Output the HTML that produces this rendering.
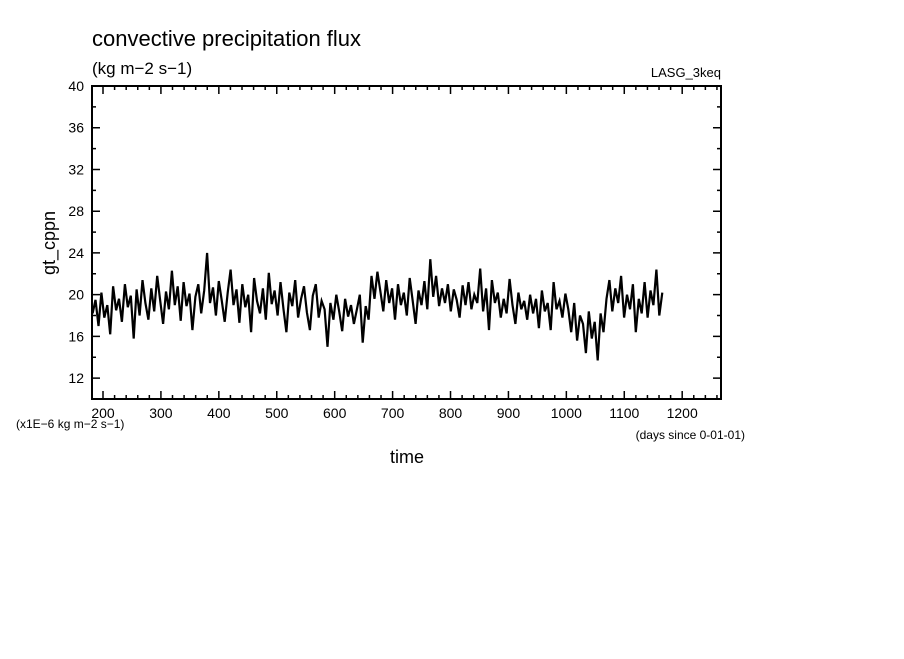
<!DOCTYPE html>
<html><head><meta charset="utf-8">
<style>
body{margin:0;background:#fff;}
svg text{font-family:"Liberation Sans",sans-serif;fill:#000;}
</style></head>
<body>
<svg id="chart" width="904" height="654" viewBox="0 0 904 654" xmlns="http://www.w3.org/2000/svg">
<defs><clipPath id="plotclip"><rect x="92" y="86" width="629" height="313"/></clipPath></defs>
<rect width="904" height="654" fill="#fff"/>
<text x="92" y="46" font-size="22">convective precipitation flux</text>
<text x="92" y="74" font-size="17">(kg m−2 s−1)</text>
<text x="721" y="77" font-size="13" text-anchor="end">LASG_3keq</text>
<text transform="translate(55,243) rotate(-90)" font-size="18" text-anchor="middle">gt_cppn</text>
<text x="407" y="463" font-size="18" text-anchor="middle">time</text>
<text x="16" y="428" font-size="12">(x1E−6 kg m−2 s−1)</text>
<text x="745" y="439" font-size="12" text-anchor="end">(days since 0-01-01)</text>
<g id="ticks"></g>
<g id="series" clip-path="url(#plotclip)"></g>
<rect x="92" y="86" width="629" height="313" fill="none" stroke="#000" stroke-width="2"/>
</svg>
<script>
const xTicks=[200,300,400,500,600,700,800,900,1000,1100,1200];
const yTicks=[12,16,20,24,28,32,36,40];
const startDay=182;
const stepDays=5.07;
const values=[
18.2,19.5,17.0,20.2,17.8,19.0,16.2,20.8,18.5,19.6,17.4,21.0,18.8,19.9,15.8,20.5,18.0,21.4,19.2,17.6,
20.6,18.4,21.8,19.5,17.2,20.3,18.6,22.3,19.0,20.8,17.5,21.2,18.9,20.1,16.6,19.8,21.0,18.2,20.4,24.0,
19.2,20.7,18.0,21.3,19.4,17.4,20.2,22.4,19.0,20.5,17.3,21.0,18.8,20.0,16.4,21.6,19.4,18.2,20.6,17.6,
22.1,19.1,20.4,18.0,21.2,18.6,16.4,20.2,18.9,21.4,17.8,19.6,20.8,18.3,16.6,19.9,21.0,17.8,19.4,18.6,
15.0,19.2,17.6,20.0,18.4,16.5,19.6,17.9,19.0,17.2,18.6,20.0,15.4,18.9,17.6,21.8,19.6,22.2,20.3,18.4,
21.4,19.2,20.6,17.6,21.0,19.0,20.2,18.0,21.6,19.4,17.2,20.4,19.0,21.3,18.6,23.4,19.8,21.8,18.9,20.6,
19.2,21.0,18.4,20.5,19.5,17.8,20.9,19.0,21.2,18.6,20.0,19.2,22.5,18.4,20.6,16.6,21.4,19.2,20.2,17.8,
19.6,18.2,21.5,19.0,17.2,20.2,18.6,19.4,17.6,20.0,18.2,19.6,16.8,20.4,18.4,19.2,16.6,21.2,18.6,19.4,
17.8,20.1,18.6,16.4,19.2,15.6,18.0,17.2,14.4,18.4,15.8,17.4,13.7,18.2,16.4,19.6,21.4,18.4,20.6,19.2,
21.8,17.8,20.0,18.6,21.0,16.4,19.6,18.2,21.2,17.8,20.4,19.0,22.4,18.0,20.2
];
const X0=92,X1=721,Y0=399,Y1=86,dMin=181,dMax=1267,vMin=10,vMax=40;
function xs(d){return X0+(d-dMin)/(dMax-dMin)*(X1-X0);}
function ys(v){return Y0-(v-vMin)/(vMax-vMin)*(Y0-Y1);}
const NS="http://www.w3.org/2000/svg";
const tg=document.getElementById('ticks');
let tp="";
for(let d=200;d<=dMax;d+=20){const x=xs(d);const L=(d%100===0)?8:4;tp+=`M${x} ${Y1}V${Y1+L}M${x} ${Y0}V${Y0-L}`;}
for(let v=12;v<=40;v+=2){const y=ys(v);const L=(v%4===0)?8:4;tp+=`M${X0} ${y}H${X0+L}M${X1} ${y}H${X1-L}`;}
const tpath=document.createElementNS(NS,'path');


tpath.setAttribute('d',tp);tpath.setAttribute('stroke','#000');tpath.setAttribute('stroke-width','1.5');
tg.appendChild(tpath);
xTicks.forEach(d=>{const t=document.createElementNS(NS,'text');


t.setAttribute('x',xs(d));t.setAttribute('y',418);t.setAttribute('font-size','14');t.setAttribute('text-anchor','middle');t.textContent=d;tg.appendChild(t);});
yTicks.forEach(v=>{const t=document.createElementNS(NS,'text');


t.setAttribute('x',84);t.setAttribute('y',ys(v)+5);t.setAttribute('font-size','14');t.setAttribute('text-anchor','end');t.textContent=v;tg.appendChild(t);});
let d="";
values.forEach((v,i)=>{d+=(i?'L':'M')+xs(startDay+i*stepDays).toFixed(1)+' '+ys(v).toFixed(1);});
const line=document.createElementNS(NS,'path');


line.setAttribute('d',d);line.setAttribute('fill','none');line.setAttribute('stroke','#000');line.setAttribute('stroke-width','2.2');
document.getElementById('series').appendChild(line);
</script>
</body></html>
